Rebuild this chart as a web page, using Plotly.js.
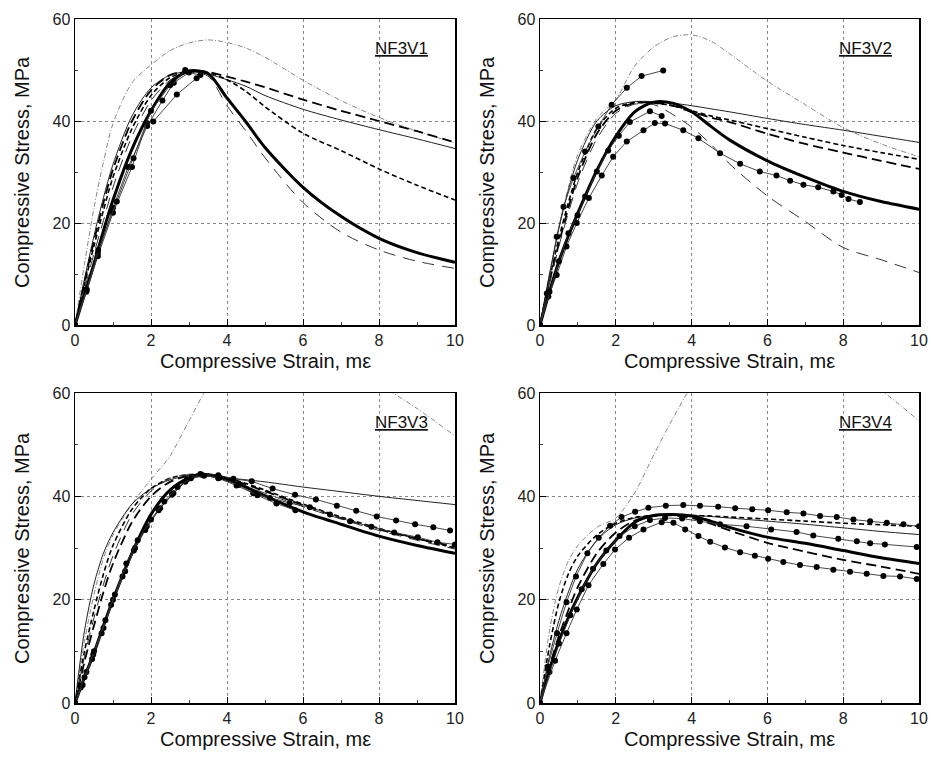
<!DOCTYPE html>
<html>
<head>
<meta charset="utf-8">
<script src="https://cdn.plot.ly/plotly-3.0.1.min.js"></script>
<style>html,body{margin:0;padding:0;background:#fff;}#chart{width:931px;height:767px;}</style>
</head>
<body>
<div id="chart"></div>
<script>
// ---------- DATA ----------
const panelNames = ["NF3V1", "NF3V2", "NF3V3", "NF3V4"];
const xTitle = "Compressive Strain, mε";
const yTitle = "Compressive Stress, MPa";
const xTicks = [0, 2, 4, 6, 8, 10];
const yTicks = [0, 20, 40, 60];

// common strain grid for model curves (mε)
const strainGrid = [0, 0.25, 0.5, 0.75, 1, 1.5, 2, 2.5, 3, 3.5, 4, 4.5, 5, 6, 7, 8, 9, 10];

// Panel 1 (NF3V1) model curves (MPa)
const p1Thick     = [0, 6, 12, 18.5, 24.5, 34.5, 42, 47.5, 49.8, 49.3, 44.5, 39.8, 34.8, 27, 21.3, 17, 14.2, 12.3];
const p1ThinDash  = [0, 7, 14, 20.5, 27, 37, 44, 48, 49.5, 48.8, 43, 38, 32.8, 24, 18.2, 14.7, 12.5, 11.1];
const p1MedDash   = [0, 8, 15.5, 22.5, 29, 38.5, 45, 48.5, 49.7, 49.5, 48.1, 45.8, 42.8, 37.6, 34.2, 30.6, 27.4, 24.5];
const p1LongDash  = [0, 8.5, 16.5, 24, 30.5, 40, 46, 49, 49.8, 49.6, 48.7, 47.7, 46.6, 44.2, 42, 40, 38, 35.8];
const p1ThinSolid = [0, 9, 17.5, 25, 31.5, 41, 46.5, 49, 49.7, 49.2, 48.1, 46.8, 45, 42.3, 40.2, 38.3, 36.5, 34.6];
const p1DashDot   = [0, 12, 23, 32, 39.5, 47.5, 51, 53.8, 55.3, 55.9, 55.4, 54.3, 52.5, 48, 44, 40.7, 38, 35.7];
// Panel 1 test data
const p1E1x = [0, 0.3, 0.6, 1.0, 1.4, 1.9, 2.3, 2.6, 2.9];
const p1E1y = [0, 7, 14, 23, 31, 39, 44, 47.5, 50];
const p1E2x = [0, 0.3, 0.6, 1.0, 1.5, 1.89, 2.06, 2.68, 3.2];
const p1E2y = [0, 6.5, 13.5, 22, 31, 39.6, 39.9, 45.2, 48.4];
const p1E3x = [0, 0.31, 0.61, 1.1, 1.54, 2.0, 2.5, 3.0, 3.3];
const p1E3y = [0, 6.9, 14.7, 24.2, 32.7, 42, 47, 49.5, 49];

// Panel 2 (NF3V2)
const p2Thick     = [0, 6.5, 12.5, 17.5, 22, 30.3, 37, 41.8, 43.7, 43.5, 41.8, 39, 36.3, 32.2, 29, 26.2, 24.2, 22.7];
const p2ThinDash  = [0, 8, 15.5, 22, 28, 36.5, 41.5, 43.3, 43.2, 41.3, 38.8, 35.5, 31.6, 25.3, 20.3, 15.2, 12.8, 10.3];
const p2MedDash   = [0, 9, 17, 24, 30, 38.5, 42.5, 43.6, 43.5, 43, 42, 41, 40.2, 38.5, 36.8, 35.2, 33.8, 32.5];
const p2LongDash  = [0, 8.5, 16, 23, 29, 37.5, 42, 43.5, 43.6, 43, 41.8, 40.7, 39.8, 37.5, 35.5, 33.8, 32.2, 30.6];
const p2ThinSolid = [0, 10, 19, 26.5, 32.5, 40, 43, 43.8, 43.8, 43.5, 43, 42.4, 41.8, 40.5, 39.3, 38.2, 37, 35.8];
const p2DashDot   = [0, 10, 19, 27, 33.5, 40.5, 44.2, 50.8, 54.5, 56.5, 56.9, 55.7, 53.2, 47.8, 43.2, 38.7, 35.5, 33];
const p2E1x = [0, 0.18, 0.44, 0.62, 0.88, 1.19, 1.54, 1.89, 2.29, 2.68, 3.25];
const p2E1y = [0, 6.2, 17.3, 23.2, 28.8, 34, 38.9, 43.2, 46.5, 48.8, 49.9];
const p2E2x = [0, 0.22, 0.44, 0.70, 0.97, 1.29, 1.63, 1.93, 2.29, 2.73, 3.03, 3.3, 3.78, 4.18, 4.75, 5.28, 5.8, 6.24, 6.6, 6.95, 7.34, 7.74, 7.96, 8.14, 8.44];
const p2E2y = [0, 5.6, 9.8, 15.4, 20, 24.9, 29.3, 33, 36, 38.2, 39.6, 39.5, 38.2, 36.6, 33.7, 31.6, 30.1, 29.3, 28.3, 27.5, 27, 26.2, 25.5, 24.7, 24.1];
const p2E3x = [0, 0.25, 0.5, 0.75, 0.99, 1.19, 1.5, 1.8, 2.08, 2.37, 2.9, 3.21];
const p2E3y = [0, 6.5, 12.5, 18, 21.5, 25.2, 30.1, 34.2, 37.1, 39.8, 41.9, 41];

// Panel 3 (NF3V3)
const p3Thick     = [0, 5, 9.7, 15, 20, 29, 36.5, 41.2, 43.5, 44.1, 43.2, 41.8, 40.1, 37, 34.6, 32.3, 30.5, 29];
const p3ThinDash  = [0, 9, 16.5, 23, 28.5, 36.5, 41, 43.5, 44.2, 44.1, 43.3, 42, 40.6, 38, 35.6, 33.4, 31.5, 29.8];
const p3MedDash   = [0, 10, 18, 25, 30.5, 37.5, 41.5, 43.5, 44.2, 44.3, 43.6, 42.5, 41.2, 38.5, 36, 33.8, 31.8, 30];
const p3LongDash  = [0, 8, 15, 21.5, 27, 35, 40, 42.8, 44, 44.3, 43.5, 42.3, 41, 38.3, 35.8, 33.6, 31.8, 30.3];
const p3ThinSolid = [0, 14, 23, 29, 33, 38.5, 41.5, 43.2, 44, 44.2, 43.6, 43.2, 42.8, 41.8, 40.9, 40, 39.2, 38.4];
const p3DashDot   = [0, 12, 21, 28, 32.5, 38.5, 43.3, 47.8, 54.6, 61, 63.5, 65, 65.5, 65.5, 64, 61.5, 57, 51.7];
const p3E1x = [0, 0.15, 0.3, 0.48, 0.75, 1.0, 1.32, 1.58, 1.89, 2.24, 2.59, 2.94, 3.33, 3.77, 4.17, 4.65, 5.2, 5.79, 6.34, 6.89, 7.4, 7.94, 8.45, 8.95, 9.43, 9.87];
const p3E1y = [0, 3, 6, 9.4, 14.5, 20, 25.5, 30, 34.2, 37.7, 40.6, 43.2, 44.2, 44.1, 43.4, 42.9, 41.5, 40.3, 39.4, 38.2, 37.2, 36.1, 35.3, 34.6, 34, 33.4];
const p3E2x = [0, 0.2, 0.45, 0.7, 0.95, 1.25, 1.55, 1.85, 2.2, 2.55, 2.9, 3.3, 3.77, 4.25, 4.69, 5.13, 5.65, 6.18, 6.71, 7.24, 7.8, 8.4, 9.02, 9.54, 10];
const p3E2y = [0, 3.5, 8.5, 13.5, 19, 24.5, 29.5, 33.5, 37.3, 40.3, 42.8, 44.3, 43.5, 42.1, 40.6, 39.7, 38.7, 37.9, 36.5, 35.2, 34.1, 33, 32.1, 31.1, 30.7];
const p3E3x = [0, 0.25, 0.5, 0.8, 1.05, 1.35, 1.65, 2.0, 2.35, 2.7, 3.05, 3.4, 3.8, 4.3, 4.8, 5.3, 5.8];
const p3E3y = [0, 5, 10, 16, 21, 27, 31.5, 35.5, 39, 41.8, 43.5, 44, 43.6, 42.2, 40.2, 38.6, 37.3];

// Panel 4 (NF3V4)
const p4Thick     = [0, 6.5, 12, 16.6, 20.5, 27, 31.5, 35, 36.3, 36.5, 36.2, 35.2, 34, 32.1, 30.9, 29.5, 28.1, 27];
const p4MedDash   = [0, 11, 19.5, 25, 28.5, 32.5, 34.8, 35.9, 36.3, 36.4, 36.3, 36.2, 36, 35.6, 35.2, 34.8, 34.5, 34.2];
const p4LongDash  = [0, 7, 13, 18, 22.5, 29, 33, 35.3, 36.2, 36.3, 35.8, 34.7, 33.4, 31, 29.3, 27.7, 26.4, 25];
const p4ThinSolid = [0, 9, 16, 21.5, 26, 31.5, 34.5, 35.8, 36.3, 36.4, 36.3, 36.1, 35.8, 35.2, 34.6, 33.9, 33.2, 32.6];
const p4DashDot   = [0, 14, 22.5, 27.5, 30.5, 34, 35.8, 40.7, 48, 55, 61.2, 64.5, 66.5, 68, 67.5, 65, 60.5, 54.6];
const p4E1x = [0, 0.2, 0.45, 0.7, 0.95, 1.25, 1.55, 1.85, 2.15, 2.51, 2.86, 3.32, 3.78, 4.22, 4.7, 5.15, 5.6, 6.02, 6.51, 6.95, 7.39, 7.83, 8.27, 8.71, 9.15, 9.59, 10];
const p4E1y = [0, 7, 13.5, 19.5, 24.5, 29, 32, 34.3, 36, 37, 37.8, 38.2, 38.3, 38.2, 38, 37.7, 37.5, 37.3, 36.9, 36.7, 36.2, 36, 35.5, 35.2, 34.9, 34.6, 34.2];
const p4E2x = [0, 0.25, 0.5, 0.8, 1.1, 1.4, 1.75, 2.1, 2.5, 2.9, 3.3, 3.75, 4.22, 4.75, 5.45, 6.1, 6.77, 7.21, 7.87, 8.36, 8.71, 9.1, 9.94];
const p4E2y = [0, 6, 11.5, 17, 22, 26, 29.5, 32.3, 34.2, 35.4, 35.8, 35.7, 35.2, 34.6, 34.2, 33.6, 33.1, 32.4, 31.8, 31.3, 30.9, 30.7, 30.2];
const p4E3x = [0, 0.4, 0.7, 0.97, 1.28, 1.67, 1.98, 2.35, 2.73, 3.21, 3.52, 3.83, 4.18, 4.49, 4.88, 5.28, 5.67, 6.02, 6.42, 6.86, 7.3, 7.74, 8.18, 8.62, 9.06, 9.5, 9.94];
const p4E3y = [0, 8.2, 13.5, 18.1, 22.8, 26.9, 29.7, 32, 33.6, 35, 34.9, 33.6, 32.3, 31.2, 30.1, 29.2, 28.5, 27.9, 27.3, 26.7, 26.3, 25.8, 25.4, 25, 24.6, 24.5, 24];

// ---------- STYLES ----------
const styles = {
  thick:     {color: "#000", width: 3, dash: "solid"},
  thinSolid: {color: "#222", width: 1, dash: "solid"},
  longDash:  {color: "#000", width: 1.8, dash: "10px,5px"},
  medDash:   {color: "#000", width: 1.6, dash: "5px,3px"},
  thinDash:  {color: "#333", width: 1, dash: "12px,8px"},
  dashDot:   {color: "#666", width: 0.8, dash: "5px,2px,1px,2px"}
};

const panels = [
  {models: {dashDot: p1DashDot, thinSolid: p1ThinSolid, longDash: p1LongDash, medDash: p1MedDash, thinDash: p1ThinDash, thick: p1Thick},
   exps: [[p1E1x, p1E1y], [p1E2x, p1E2y], [p1E3x, p1E3y]]},
  {models: {dashDot: p2DashDot, thinSolid: p2ThinSolid, longDash: p2LongDash, medDash: p2MedDash, thinDash: p2ThinDash, thick: p2Thick},
   exps: [[p2E1x, p2E1y], [p2E2x, p2E2y], [p2E3x, p2E3y]]},
  {models: {dashDot: p3DashDot, thinSolid: p3ThinSolid, longDash: p3LongDash, medDash: p3MedDash, thinDash: p3ThinDash, thick: p3Thick},
   exps: [[p3E1x, p3E1y], [p3E2x, p3E2y], [p3E3x, p3E3y]]},
  {models: {dashDot: p4DashDot, thinSolid: p4ThinSolid, longDash: p4LongDash, medDash: p4MedDash, thick: p4Thick},
   exps: [[p4E1x, p4E1y], [p4E2x, p4E2y], [p4E3x, p4E3y]]}
];

const traces = [];
panels.forEach((p, i) => {
  const xa = i === 0 ? "x" : "x" + (i + 1);
  const ya = i === 0 ? "y" : "y" + (i + 1);
  Object.keys(p.models).forEach(k => {
    traces.push({x: strainGrid, y: p.models[k], xaxis: xa, yaxis: ya, type: "scatter", mode: "lines",
      line: Object.assign({shape: "spline", smoothing: 0.8}, styles[k]), showlegend: false, hoverinfo: "skip"});
  });
  p.exps.forEach(e => {
    traces.push({x: e[0], y: e[1], xaxis: xa, yaxis: ya, type: "scatter", mode: "lines+markers",
      line: {color: "#333", width: 0.9}, marker: {color: "#000", size: 6, symbol: "circle"},
      showlegend: false, hoverinfo: "skip", cliponaxis: true});
  });
});

// ---------- LAYOUT ----------
const W = 931, H = 767;
const boxes = [ // pixel boxes [left, right, top, bottom]
  [75, 455, 19, 325], [540, 919, 19, 325], [75, 455, 393, 703], [540, 919, 393, 703]
];
const font = "Liberation Sans, Arial, sans-serif";
const layout = {
  width: W, height: H, margin: {l: 0, r: 0, t: 0, b: 0},
  paper_bgcolor: "#fff", plot_bgcolor: "#fff", showlegend: false,
  font: {family: font, color: "#222"},
  annotations: []
};
boxes.forEach((b, i) => {
  const n = i === 0 ? "" : String(i + 1);
  const axBase = {
    showline: true, linecolor: "#000", linewidth: 1.5, mirror: true,
    ticks: "inside", ticklen: 6, tickcolor: "#000", tickwidth: 1,
    showgrid: true, gridcolor: "#888", griddash: "dot", gridwidth: 1,
    zeroline: false, tickfont: {family: font, size: 16, color: "#222"},
    minor: {ticks: "inside", ticklen: 3, tickcolor: "#444", showgrid: false}
  };
  layout["xaxis" + n] = Object.assign({}, axBase, {
    domain: [b[0] / W, b[1] / W], anchor: "y" + n, range: [0, 10],
    tickvals: xTicks, minor: Object.assign({}, axBase.minor, {dtick: 1, tick0: 0})
  });
  layout["yaxis" + n] = Object.assign({}, axBase, {
    domain: [1 - b[3] / H, 1 - b[2] / H], anchor: "x" + n, range: [0, 60],
    tickvals: yTicks, minor: Object.assign({}, axBase.minor, {dtick: 10, tick0: 0})
  });
  // axis titles as annotations (paper coords)
  layout.annotations.push({
    xref: "paper", yref: "paper", x: ((b[0] + b[1]) / 2) / W, y: 1 - (b[3] + 36) / H,
    text: xTitle, showarrow: false, xanchor: "center", yanchor: "middle",
    font: {family: font, size: 20, color: "#111"}
  });
  layout.annotations.push({
    xref: "paper", yref: "paper", x: (b[0] - 53) / W, y: 1 - ((b[2] + b[3]) / 2) / H,
    text: yTitle, showarrow: false, textangle: -90, xanchor: "center", yanchor: "middle",
    font: {family: font, size: 20, color: "#111"}
  });
  layout.annotations.push({
    xref: "x" + n, yref: "y" + n, x: 8.6, y: 54.3,
    text: "<u>" + panelNames[i] + "</u>", showarrow: false, xanchor: "center", yanchor: "middle",
    font: {family: font, size: 17, color: "#111"}
  });
});

Plotly.newPlot("chart", traces, layout, {staticPlot: true, displayModeBar: false});
</script>
</body>
</html>
